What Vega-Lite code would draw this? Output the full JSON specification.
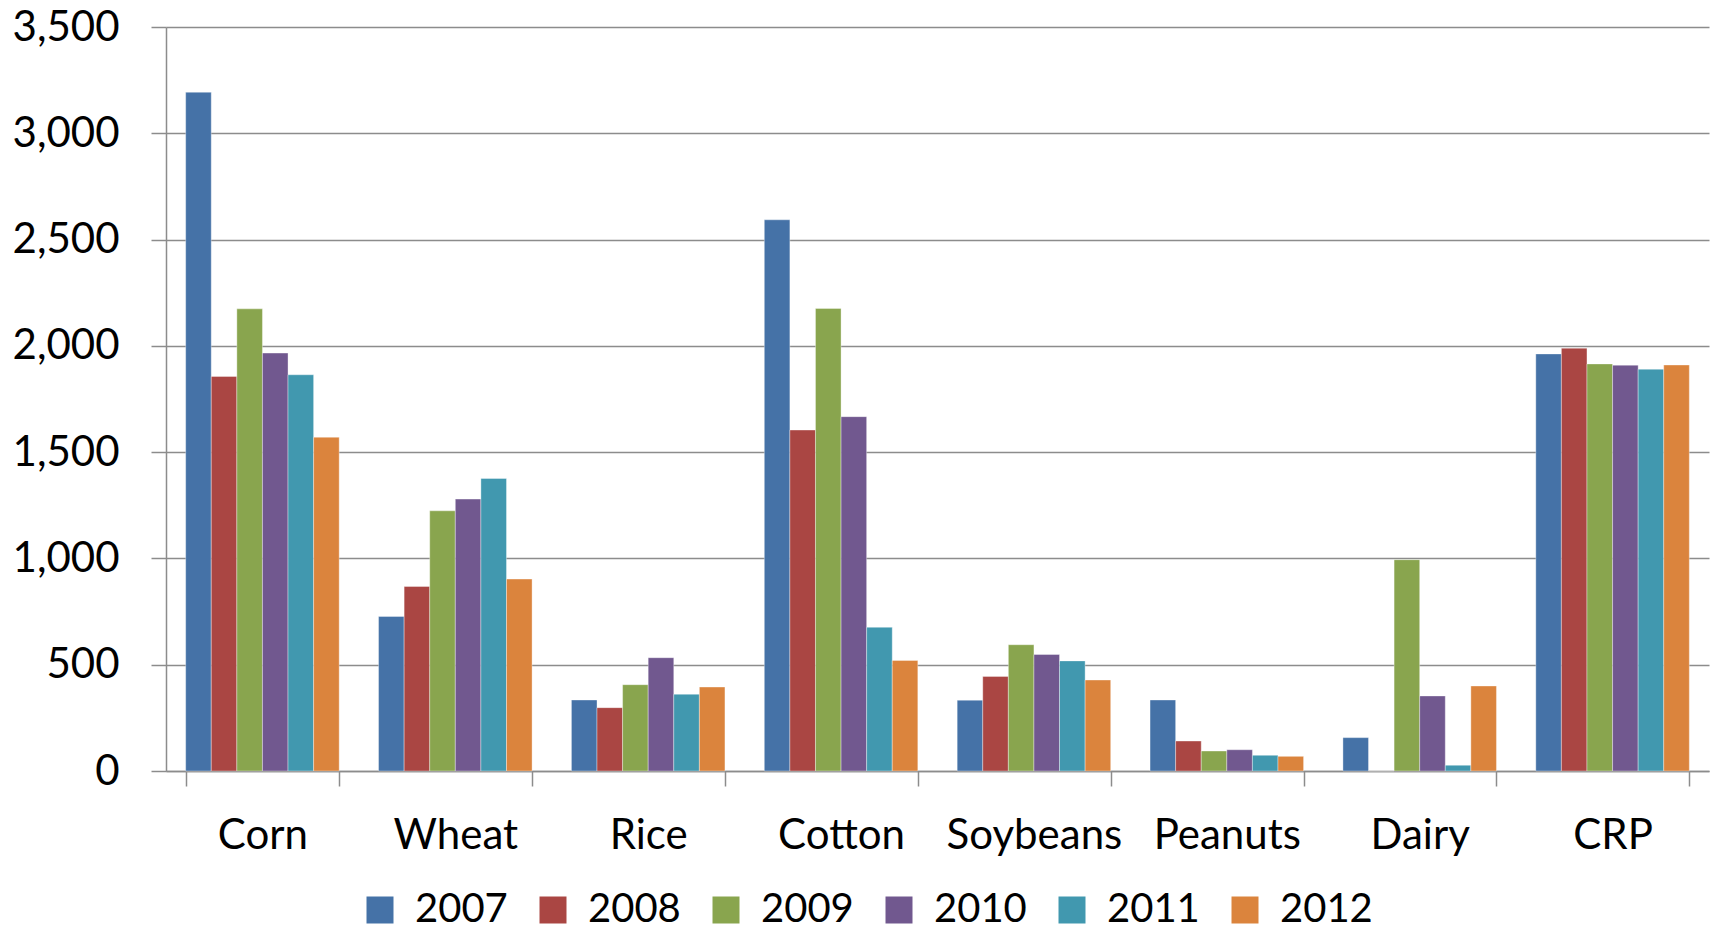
{
  "$schema": "https://vega.github.io/schema/vega-lite/v6.json",
  "autosize": {"type": "none"},
  "width": 1543,
  "height": 744,
  "padding": {"left": 166, "top": 27, "right": 6, "bottom": 162},
  "background": "white",
  "data": {"values": [
    {"crop": "Corn", "year": "2007", "value": 3193},
    {"crop": "Corn", "year": "2008", "value": 1856},
    {"crop": "Corn", "year": "2009", "value": 2174},
    {"crop": "Corn", "year": "2010", "value": 1966},
    {"crop": "Corn", "year": "2011", "value": 1864},
    {"crop": "Corn", "year": "2012", "value": 1570},
    {"crop": "Wheat", "year": "2007", "value": 727},
    {"crop": "Wheat", "year": "2008", "value": 868},
    {"crop": "Wheat", "year": "2009", "value": 1224},
    {"crop": "Wheat", "year": "2010", "value": 1279},
    {"crop": "Wheat", "year": "2011", "value": 1376},
    {"crop": "Wheat", "year": "2012", "value": 903},
    {"crop": "Rice", "year": "2007", "value": 334},
    {"crop": "Rice", "year": "2008", "value": 298},
    {"crop": "Rice", "year": "2009", "value": 406},
    {"crop": "Rice", "year": "2010", "value": 533},
    {"crop": "Rice", "year": "2011", "value": 361},
    {"crop": "Rice", "year": "2012", "value": 395},
    {"crop": "Cotton", "year": "2007", "value": 2593},
    {"crop": "Cotton", "year": "2008", "value": 1604},
    {"crop": "Cotton", "year": "2009", "value": 2176},
    {"crop": "Cotton", "year": "2010", "value": 1667},
    {"crop": "Cotton", "year": "2011", "value": 676},
    {"crop": "Cotton", "year": "2012", "value": 520},
    {"crop": "Soybeans", "year": "2007", "value": 333},
    {"crop": "Soybeans", "year": "2008", "value": 445},
    {"crop": "Soybeans", "year": "2009", "value": 594},
    {"crop": "Soybeans", "year": "2010", "value": 548},
    {"crop": "Soybeans", "year": "2011", "value": 518},
    {"crop": "Soybeans", "year": "2012", "value": 428},
    {"crop": "Peanuts", "year": "2007", "value": 334},
    {"crop": "Peanuts", "year": "2008", "value": 141},
    {"crop": "Peanuts", "year": "2009", "value": 94},
    {"crop": "Peanuts", "year": "2010", "value": 100},
    {"crop": "Peanuts", "year": "2011", "value": 74},
    {"crop": "Peanuts", "year": "2012", "value": 69},
    {"crop": "Dairy", "year": "2007", "value": 157},
    {"crop": "Dairy", "year": "2008", "value": 0},
    {"crop": "Dairy", "year": "2009", "value": 994},
    {"crop": "Dairy", "year": "2010", "value": 353},
    {"crop": "Dairy", "year": "2011", "value": 27},
    {"crop": "Dairy", "year": "2012", "value": 400},
    {"crop": "CRP", "year": "2007", "value": 1962},
    {"crop": "CRP", "year": "2008", "value": 1989},
    {"crop": "CRP", "year": "2009", "value": 1915},
    {"crop": "CRP", "year": "2010", "value": 1909},
    {"crop": "CRP", "year": "2011", "value": 1890},
    {"crop": "CRP", "year": "2012", "value": 1910}
  ]},
  "mark": {"type": "bar", "stroke": "#ffffff", "strokeWidth": 0.6, "strokeOpacity": 0.6},
  "encoding": {
    "x": {
      "field": "crop", "type": "nominal",
      "sort": ["Corn", "Wheat", "Rice", "Cotton", "Soybeans", "Peanuts", "Dairy", "CRP"],
      "scale": {"paddingInner": 0.204, "paddingOuter": 0.102},
      "axis": {
        "title": null, "labelAngle": 0, "tickBand": "extent",
        "domainColor": "#8c8c8c", "domainWidth": 1.5,
        "tickColor": "#8c8c8c", "tickWidth": 1.5, "tickSize": 15,
        "labelFont": "Lato", "labelFontSize": 42, "labelColor": "#000000",
        "labelPadding": 29, "grid": false
      }
    },
    "xOffset": {"field": "year", "type": "nominal"},
    "y": {
      "field": "value", "type": "quantitative",
      "scale": {"domain": [0, 3500], "nice": false},
      "axis": {
        "title": null, "values": [0, 500, 1000, 1500, 2000, 2500, 3000, 3500],
        "format": ",d",
        "domainColor": "#8c8c8c", "domainWidth": 1.5,
        "tickColor": "#8c8c8c", "tickWidth": 1.5, "tickSize": 15,
        "gridColor": "#8c8c8c", "gridWidth": 1.5,
        "labelFont": "Lato", "labelFontSize": 42, "labelColor": "#000000",
        "labelPadding": 32
      }
    },
    "color": {
      "field": "year", "type": "nominal",
      "scale": {"domain": ["2007", "2008", "2009", "2010", "2011", "2012"],
                "range": ["#4572A7", "#AA4643", "#89A54E", "#71588F", "#4198AF", "#DB843D"]},
      "legend": {
        "title": null, "orient": "none", "direction": "horizontal", "columns": 6,
        "legendX": 194, "legendY": 863,
        "symbolType": "square", "symbolSize": 729,
        "symbolStrokeWidth": 0, "symbolOpacity": 1,
        "labelFont": "Lato", "labelFontSize": 40, "labelColor": "#000000",
        "labelOffset": 15, "columnPadding": 25
      }
    }
  },
  "config": {"view": {"stroke": null}}
}
